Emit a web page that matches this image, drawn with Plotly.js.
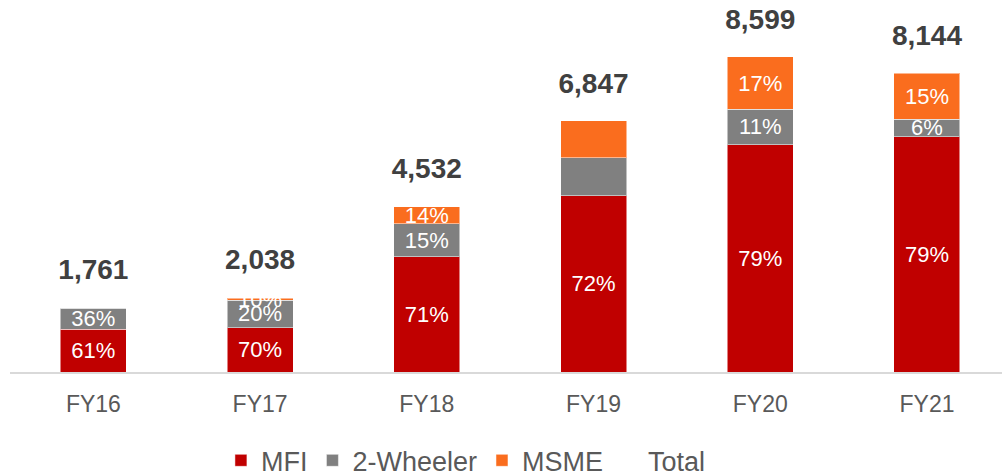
<!DOCTYPE html>
<html>
<head>
<meta charset="utf-8">
<script src="https://cdn.plot.ly/plotly-3.0.1.min.js"></script>
<style>html,body{margin:0;padding:0;background:#fff;}#chart{width:1002px;height:476px;}</style>
</head>
<body>
<div id="chart"></div>
<script>
var categories = ['FY16', 'FY17', 'FY18', 'FY19', 'FY20', 'FY21'];
var mfiValues = [1164, 1208, 3143, 4806, 6197, 6415];
var twoWheelerValues = [573, 747, 900, 1028, 965, 474];
var msmeValues = [0, 55, 463, 1009, 1426, 1254];
var totalValues = [1761, 2038, 4532, 6847, 8599, 8144];
var mfiLabels = ['61%', '70%', '71%', '72%', '79%', '79%'];
var twoWheelerLabels = ['36%', '20%', '15%', '', '11%', '6%'];
var msmeLabels = ['', '10%', '14%', '', '17%', '15%'];

var font = 'Arial, "Liberation Sans", sans-serif';
function fmt(v) { return v.toLocaleString('en-US'); }

var barLine = {color: 'rgba(255,255,255,0.5)', width: 1};
var insideFont = {family: font, size: 22, color: '#ffffff'};

var traces = [
  {type: 'bar', name: 'MFI', x: categories, y: mfiValues, text: mfiLabels,
   textposition: 'inside', insidetextanchor: 'middle', constraintext: 'none',
   textfont: insideFont, marker: {color: '#C00000', line: barLine}, hoverinfo: 'x+y'},
  {type: 'bar', name: '2-Wheeler', x: categories, y: twoWheelerValues, text: twoWheelerLabels,
   textposition: 'inside', insidetextanchor: 'middle', constraintext: 'none',
   textfont: insideFont, marker: {color: '#808080', line: barLine}, hoverinfo: 'x+y'},
  {type: 'bar', name: 'MSME', x: categories, y: msmeValues, text: msmeLabels,
   textposition: 'inside', insidetextanchor: 'middle', constraintext: 'none',
   textfont: insideFont, marker: {color: '#FA6D1E', line: barLine}, hoverinfo: 'x+y'},
  {type: 'scatter', name: 'Total', x: categories, y: totalValues, mode: 'markers+text',
   text: totalValues.map(fmt), textposition: 'top center',
   textfont: {family: font, size: 28, color: '#404040', weight: 'bold'},
   marker: {size: 32, color: 'rgba(0,0,0,0)'}, cliponaxis: false, hoverinfo: 'x+y'}
];

var layout = {
  width: 1002, height: 476,
  margin: {l: 10, r: 0, t: 0, b: 104},
  paper_bgcolor: '#ffffff', plot_bgcolor: '#ffffff',
  barmode: 'stack', bargap: 0.604,
  showlegend: true,
  legend: {orientation: 'h', x: 0.465, xanchor: 'center', xref: 'container',
           y: 0.032, yanchor: 'middle', yref: 'container',
           font: {family: font, size: 27, color: '#595959'}, traceorder: 'normal'},
  xaxis: {type: 'category', range: [-0.5, 5.45], showgrid: false, zeroline: false,
          showline: true, linecolor: '#D9D9D9', linewidth: 2, ticks: '', ticklabelstandoff: 10,
          tickfont: {family: font, size: 23, color: '#595959'}, fixedrange: true},
  yaxis: {range: [0, 10141], visible: false, showgrid: false, zeroline: false, fixedrange: true},
  font: {family: font}
};

Plotly.newPlot('chart', traces, layout, {displayModeBar: false, staticPlot: true});
</script>
</body>
</html>
